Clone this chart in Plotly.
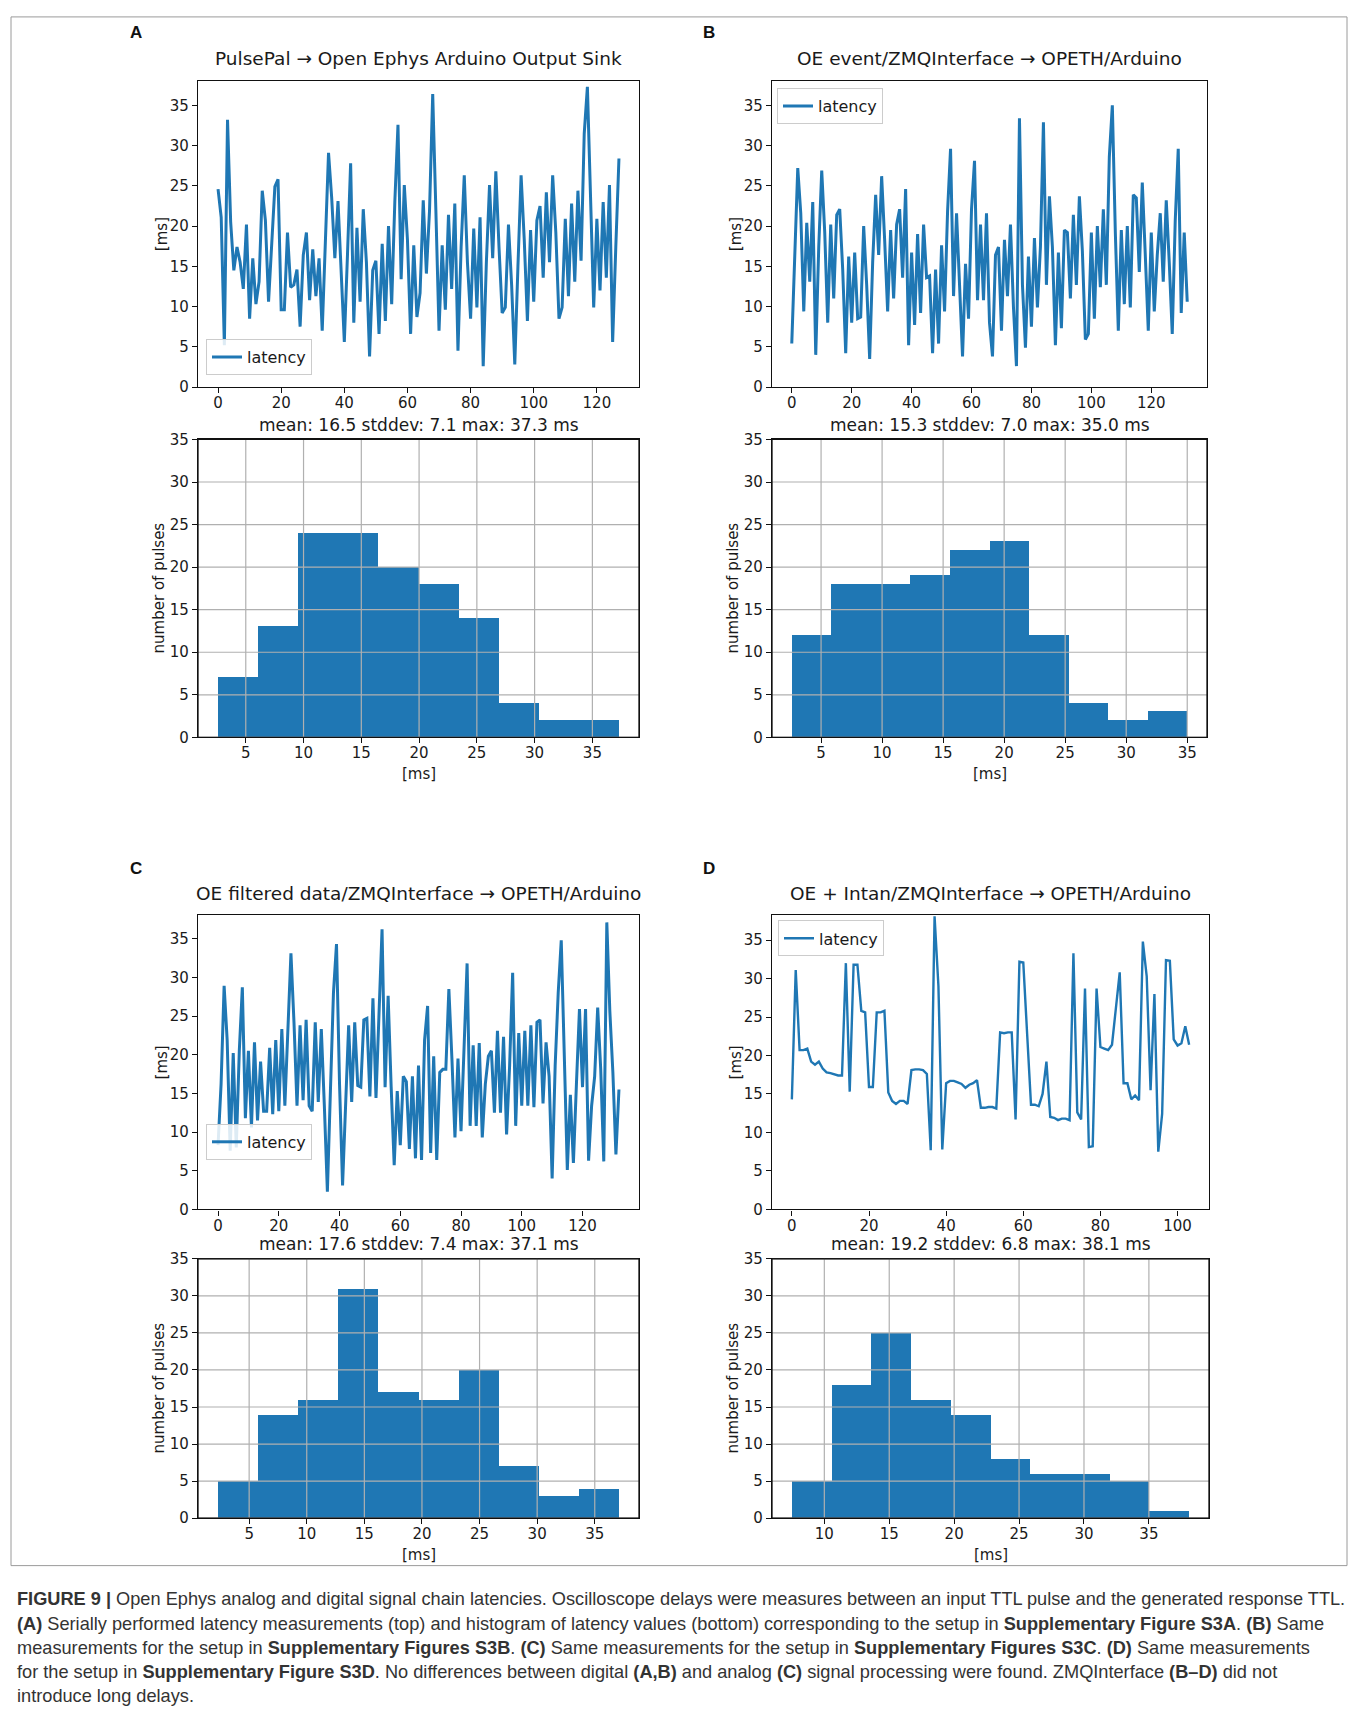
import numpy as np
import plotly.graph_objects as go

W, H = 1358, 1729

# ---------------- data ----------------
lat_A = [24.6, 21.1, 5.2, 33.2, 20.5, 14.5, 17.4, 15.5, 12.2, 20.2,
         8.5, 16.0, 10.3, 13.1, 24.4, 20.7, 10.6, 17.0, 24.9, 25.8,
         9.6, 9.6, 19.2, 12.4, 12.7, 14.6, 7.5, 16.4, 19.2, 10.8,
         17.1, 11.3, 16.0, 7.0, 17.0, 29.1, 23.5, 16.0, 23.1, 15.0,
         5.6, 16.4, 27.8, 8.0, 19.8, 10.6, 22.1, 15.5, 3.8, 14.5,
         15.7, 6.6, 17.8, 8.2, 20.0, 10.3, 23.0, 32.6, 13.4, 25.1,
         18.3, 6.6, 17.6, 8.7, 11.7, 23.2, 14.1, 22.0, 36.4, 22.0,
         7.0, 17.6, 9.6, 21.4, 12.2, 22.8, 4.5, 17.4, 26.3, 15.5,
         8.5, 19.7, 9.9, 21.1, 2.6, 15.5, 25.1, 16.0, 26.8, 17.4,
         9.2, 9.9, 20.2, 12.7, 2.8, 15.0, 26.3, 18.3, 8.2, 19.5,
         10.6, 20.7, 22.5, 13.6, 24.2, 15.5, 26.3, 19.2, 8.5, 9.9,
         20.9, 11.3, 22.8, 13.1, 24.4, 15.7, 31.5, 37.3, 24.4, 9.9,
         20.9, 12.0, 23.0, 13.6, 25.1, 5.6, 17.4, 28.4]

lat_B = [5.4, 16.4, 27.2, 21.6, 9.4, 20.4, 13.1, 23.0, 4.0, 17.4,
         26.9, 19.2, 8.0, 20.2, 11.0, 21.4, 22.1, 14.6, 4.2, 16.2,
         8.0, 16.7, 8.5, 8.7, 20.0, 12.7, 3.5, 15.5, 23.9, 16.4,
         26.2, 18.3, 9.4, 19.5, 11.0, 20.2, 22.1, 13.6, 24.6, 5.2,
         16.7, 7.7, 19.0, 9.2, 20.2, 13.6, 13.8, 4.2, 14.6, 5.4,
         17.6, 9.4, 21.8, 29.6, 11.3, 21.6, 12.7, 3.8, 15.3, 8.5,
         22.1, 28.1, 10.8, 20.2, 10.8, 21.6, 8.0, 3.8, 16.4, 17.4,
         7.0, 18.3, 11.3, 20.2, 9.9, 2.6, 33.4, 12.7, 4.9, 16.2,
         7.5, 18.5, 9.9, 17.4, 32.9, 12.7, 23.7, 17.4, 5.2, 16.7,
         7.3, 19.5, 19.2, 11.0, 21.4, 12.7, 23.7, 16.9, 5.9, 6.6,
         19.2, 8.5, 20.0, 12.4, 22.1, 12.7, 28.6, 35.0, 19.2, 7.0,
         19.5, 10.3, 20.0, 9.9, 23.9, 23.5, 14.3, 25.4, 16.4, 7.0,
         19.2, 9.4, 16.4, 21.6, 13.1, 23.2, 15.5, 6.6, 20.7, 29.6,
         9.2, 19.2, 10.6]

lat_C = [8.3, 16.2, 28.9, 21.9, 7.6, 20.2, 8.0, 20.5, 28.7, 11.8,
         20.5, 10.6, 21.6, 11.5, 19.1, 12.7, 12.7, 20.9, 12.3, 21.9,
         12.7, 23.3, 13.4, 23.3, 33.1, 24.2, 13.4, 23.8, 14.1, 24.5,
         13.4, 12.7, 24.2, 13.9, 23.3, 13.4, 2.3, 15.3, 28.0, 34.3,
         16.2, 3.1, 13.4, 23.8, 13.9, 24.2, 16.0, 15.8, 24.5, 24.7,
         14.6, 27.3, 14.4, 26.6, 36.2, 15.8, 27.6, 15.8, 5.7, 15.3,
         8.3, 17.2, 16.5, 7.8, 17.2, 6.6, 18.6, 6.4, 21.9, 26.3,
         7.3, 19.8, 6.4, 17.7, 18.1, 18.1, 28.5, 19.5, 9.3, 19.5,
         10.1, 20.9, 31.8, 10.8, 21.2, 10.8, 21.5, 9.3, 16.2, 19.8,
         20.5, 12.5, 23.1, 12.5, 22.3, 9.7, 18.6, 30.6, 10.8, 22.8,
         13.4, 23.1, 13.4, 23.8, 13.2, 24.2, 24.5, 13.7, 21.6, 17.2,
         4.0, 18.6, 28.0, 34.8, 20.9, 5.1, 14.8, 6.0, 16.2, 25.9,
         15.8, 25.9, 6.3, 13.4, 17.2, 26.1, 18.1, 6.2, 37.1, 25.6,
         17.7, 7.1, 15.5]

lat_D = [14.3, 31.1, 20.7, 20.7, 20.9, 19.2, 18.8, 19.2, 18.3, 17.8,
         17.7, 17.5, 17.4, 17.4, 32.0, 15.3, 31.8, 31.8, 25.8, 25.6,
         15.9, 15.9, 25.6, 25.6, 25.8, 15.2, 14.1, 13.7, 14.1, 14.1,
         13.7, 18.1, 18.2, 18.2, 18.1, 17.6, 7.7, 38.1, 29.0, 7.8,
         16.4, 16.7, 16.7, 16.5, 16.3, 15.8, 16.2, 16.4, 16.8, 13.2,
         13.2, 13.3, 13.3, 13.1, 23.0, 22.9, 23.0, 23.0, 11.7, 32.2,
         32.1, 22.8, 13.6, 13.6, 13.4, 15.0, 19.2, 12.0, 11.9, 11.6,
         11.8, 11.8, 11.6, 33.3, 12.6, 11.7, 28.7, 8.1, 8.2, 28.7,
         21.1, 20.9, 20.7, 21.4, 26.6, 30.8, 16.4, 16.4, 14.3, 14.8,
         14.2, 34.8, 30.3, 15.5, 28.0, 7.5, 12.4, 32.4, 32.3, 22.1,
         21.3, 21.6, 23.8, 21.4]

counts_A = [7, 13, 24, 24, 20, 18, 14, 4, 2, 2]
counts_B = [12, 18, 18, 19, 22, 23, 12, 4, 2, 3]
counts_C = [5, 14, 16, 31, 17, 16, 20, 7, 3, 4]
counts_D = [5, 18, 25, 16, 14, 8, 6, 6, 5, 1]

line_titles = ["PulsePal → Open Ephys Arduino Output Sink",
               "OE event/ZMQInterface → OPETH/Arduino",
               "OE filtered data/ZMQInterface → OPETH/Arduino",
               "OE + Intan/ZMQInterface → OPETH/Arduino"]
hist_titles = ["mean: 16.5 stddev: 7.1 max: 37.3 ms",
               "mean: 15.3 stddev: 7.0 max: 35.0 ms",
               "mean: 17.6 stddev: 7.4 max: 37.1 ms",
               "mean: 19.2 stddev: 6.8 max: 38.1 ms"]
panel_letters = ["A", "B", "C", "D"]
line_xticks = [[0, 20, 40, 60, 80, 100, 120]] * 3 + [[0, 20, 40, 60, 80, 100]]
line_yticks = [0, 5, 10, 15, 20, 25, 30, 35]
hist_xticks = [[5, 10, 15, 20, 25, 30, 35]] * 3 + [[10, 15, 20, 25, 30, 35]]
hist_yticks = [0, 5, 10, 15, 20, 25, 30, 35]
legend_label = "latency"

caption_lines = [
    "<b>FIGURE 9 |</b> Open Ephys analog and digital signal chain latencies. Oscilloscope delays were measures between an input TTL pulse and the generated response TTL.",
    "<b>(A)</b> Serially performed latency measurements (top) and histogram of latency values (bottom) corresponding to the setup in <b>Supplementary Figure S3A</b>. <b>(B)</b> Same",
    "measurements for the setup in <b>Supplementary Figures S3B</b>. <b>(C)</b> Same measurements for the setup in <b>Supplementary Figures S3C</b>. <b>(D)</b> Same measurements",
    "for the setup in <b>Supplementary Figure S3D</b>. No differences between digital <b>(A,B)</b> and analog <b>(C)</b> signal processing were found. ZMQInterface <b>(B–D)</b> did not",
    "introduce long delays.",
]

# ---------------- layout (pixel boxes: left, top, right, bottom) ----------------
line_boxes = [(198, 73, 639, 382), (772, 73, 1207, 382),
              (198, 916, 639, 1213), (772, 916, 1209, 1213)]
hist_boxes = [(198, 435, 639, 736), (772, 435, 1207, 736),
              (198, 1263, 639, 1525), (772, 1263, 1209, 1525)]
letter_pos = [(136, 24), (709, 24), (136, 869), (709, 869)]
legend_pos = [("left", "bottom", 206, 370), ("left", "top", 777, 80),
              ("left", "bottom", 206, 1163), ("left", "top", 778, 921)]
line_ytop = [38, 38, 38, 38.2]
line_widths = [3.0, 3.0, 3.0, 2.4]

BLUE = "#1f77b4"
TXT = "#1a1a1a"
FONT = "DejaVu Sans"


def fx(p):
    return p / W


def fy(p):
    return 1 - p / H


fig = go.Figure()
layout = dict(width=W, height=H, autosize=False,
              margin=dict(l=0, r=0, t=0, b=0),
              paper_bgcolor="white", plot_bgcolor="white",
              showlegend=True, bargap=0)
annotations = []
shapes = []

series = [lat_A, lat_B, lat_C, lat_D]
counts = [counts_A, counts_B, counts_C, counts_D]

axis_common = dict(showline=True, mirror=True, linecolor="#111", linewidth=1.3,
                   ticks="outside", ticklen=5, tickwidth=1.2, tickcolor="#111",
                   zeroline=False, tickfont=dict(family=FONT, size=15, color=TXT))

for k in range(4):
    lat = series[k]
    n = len(lat)
    xi = np.arange(n)
    la = 2 * k + 1
    hb = 2 * k + 2
    lname = "" if la == 1 else str(la)
    hname = str(hb)
    legname = "legend" if k == 0 else "legend%d" % (k + 1)

    # ---- line plot ----
    fig.add_trace(go.Scatter(x=xi, y=lat, mode="lines", name=legend_label,
                             line=dict(color=BLUE, width=line_widths[k]),
                             xaxis="x" + lname, yaxis="y" + lname,
                             legend=legname, showlegend=True))
    x0, y0, x1, y1 = line_boxes[k]
    pad = 0.05 * (n - 1)
    layout["xaxis" + lname] = dict(axis_common, domain=[fx(x0), fx(x1)],
                                   range=[-pad, n - 1 + pad], tickvals=line_xticks[k],
                                   showgrid=False, anchor="y" + lname,
                                   ticklabelstandoff=-3)
    layout["yaxis" + lname] = dict(axis_common, domain=[fy(y1), fy(y0)],
                                   range=[0, line_ytop[k]], tickvals=line_yticks,
                                   showgrid=False, anchor="x" + lname)
    annotations.append(dict(text=line_titles[k], x=fx((x0 + x1) / 2), y=fy(y0 - 10),
                            xref="paper", yref="paper", xanchor="center", yanchor="bottom",
                            showarrow=False, font=dict(family=FONT, size=18.5, color=TXT)))
    annotations.append(dict(text="[ms]", x=fx(x0 - 36), y=fy((y0 + y1) / 2),
                            xref="paper", yref="paper", xanchor="center", yanchor="middle",
                            textangle=-90, showarrow=False,
                            font=dict(family=FONT, size=15, color=TXT)))
    ha, va, lx, ly = legend_pos[k]
    layout[legname] = dict(x=fx(lx), y=fy(ly), xanchor=ha, yanchor=va,
                           xref="paper", yref="paper",
                           bgcolor="rgba(255,255,255,0.85)", bordercolor="#cccccc",
                           borderwidth=1, font=dict(family=FONT, size=16, color=TXT),
                           itemwidth=30, tracegroupgap=0)
    annotations.append(dict(text="<b>%s</b>" % panel_letters[k],
                            x=fx(letter_pos[k][0]), y=fy(letter_pos[k][1]),
                            xref="paper", yref="paper", xanchor="center", yanchor="middle",
                            showarrow=False,
                            font=dict(family="Liberation Sans, Arial", size=17, color="#111")))

    # ---- histogram ----
    edges = np.linspace(min(lat), max(lat), len(counts[k]) + 1)
    centers = (edges[:-1] + edges[1:]) / 2
    widths = np.diff(edges)
    fig.add_trace(go.Bar(x=centers, y=counts[k], width=widths,
                         marker=dict(color=BLUE, line=dict(width=0)),
                         xaxis="x" + hname, yaxis="y" + hname, showlegend=False))
    hx0, hy0, hx1, hy1 = hist_boxes[k]
    span = edges[-1] - edges[0]
    layout["xaxis" + hname] = dict(axis_common, domain=[fx(hx0), fx(hx1)],
                                   range=[edges[0] - 0.05 * span, edges[-1] + 0.05 * span],
                                   tickvals=hist_xticks[k], showgrid=False, anchor="y" + hname,
                                   ticklabelstandoff=-3)
    layout["yaxis" + hname] = dict(axis_common, domain=[fy(hy1), fy(hy0)],
                                   range=[0, 35], tickvals=hist_yticks,
                                   showgrid=False, anchor="x" + hname)
    for v in hist_xticks[k]:
        shapes.append(dict(type="line", xref="x" + hname, yref="y" + hname + " domain",
                           x0=v, x1=v, y0=0, y1=1, line=dict(color="#b0b0b0", width=1.2),
                           layer="above"))
    for v in hist_yticks:
        shapes.append(dict(type="line", xref="x" + hname + " domain", yref="y" + hname,
                           x0=0, x1=1, y0=v, y1=v, line=dict(color="#b0b0b0", width=1.2),
                           layer="above"))
    annotations.append(dict(text=hist_titles[k], x=fx((hx0 + hx1) / 2), y=fy(hy0 - 3),
                            xref="paper", yref="paper", xanchor="center", yanchor="bottom",
                            showarrow=False, font=dict(family=FONT, size=17, color=TXT)))
    annotations.append(dict(text="number of pulses", x=fx(hx0 - 39), y=fy((hy0 + hy1) / 2),
                            xref="paper", yref="paper", xanchor="center", yanchor="middle",
                            textangle=-90, showarrow=False,
                            font=dict(family=FONT, size=15, color=TXT)))
    annotations.append(dict(text="[ms]", x=fx((hx0 + hx1) / 2), y=fy(hy1 + 37),
                            xref="paper", yref="paper", xanchor="center", yanchor="middle",
                            showarrow=False, font=dict(family=FONT, size=15, color=TXT)))

# axis frames redrawn above the grid shapes
for k in range(4):
    hx0, hy0, hx1, hy1 = hist_boxes[k]
    shapes.append(dict(type="rect", xref="paper", yref="paper",
                       x0=fx(hx0), x1=fx(hx1), y0=fy(hy1), y1=fy(hy0),
                       line=dict(color="#111", width=1.3), layer="above"))

# outer frame
shapes.append(dict(type="rect", xref="paper", yref="paper",
                   x0=fx(11), x1=fx(1347), y0=fy(1573), y1=fy(8),
                   line=dict(color="#9a9a9a", width=1), layer="below"))

# caption
for i, line in enumerate(caption_lines):
    annotations.append(dict(text=line, x=fx(15), y=fy(1607 + 24.5 * i),
                            xref="paper", yref="paper", xanchor="left", yanchor="middle",
                            align="left", showarrow=False,
                            font=dict(family="Liberation Sans Narrow, Liberation Sans, Arial",
                                      size=18.2, color="#333333")))

layout["annotations"] = annotations
layout["shapes"] = shapes
fig.update_layout(**layout)

fig.write_html("out.html", config={"displayModeBar": False},
               post_script="document.body.style.margin='0px';")
